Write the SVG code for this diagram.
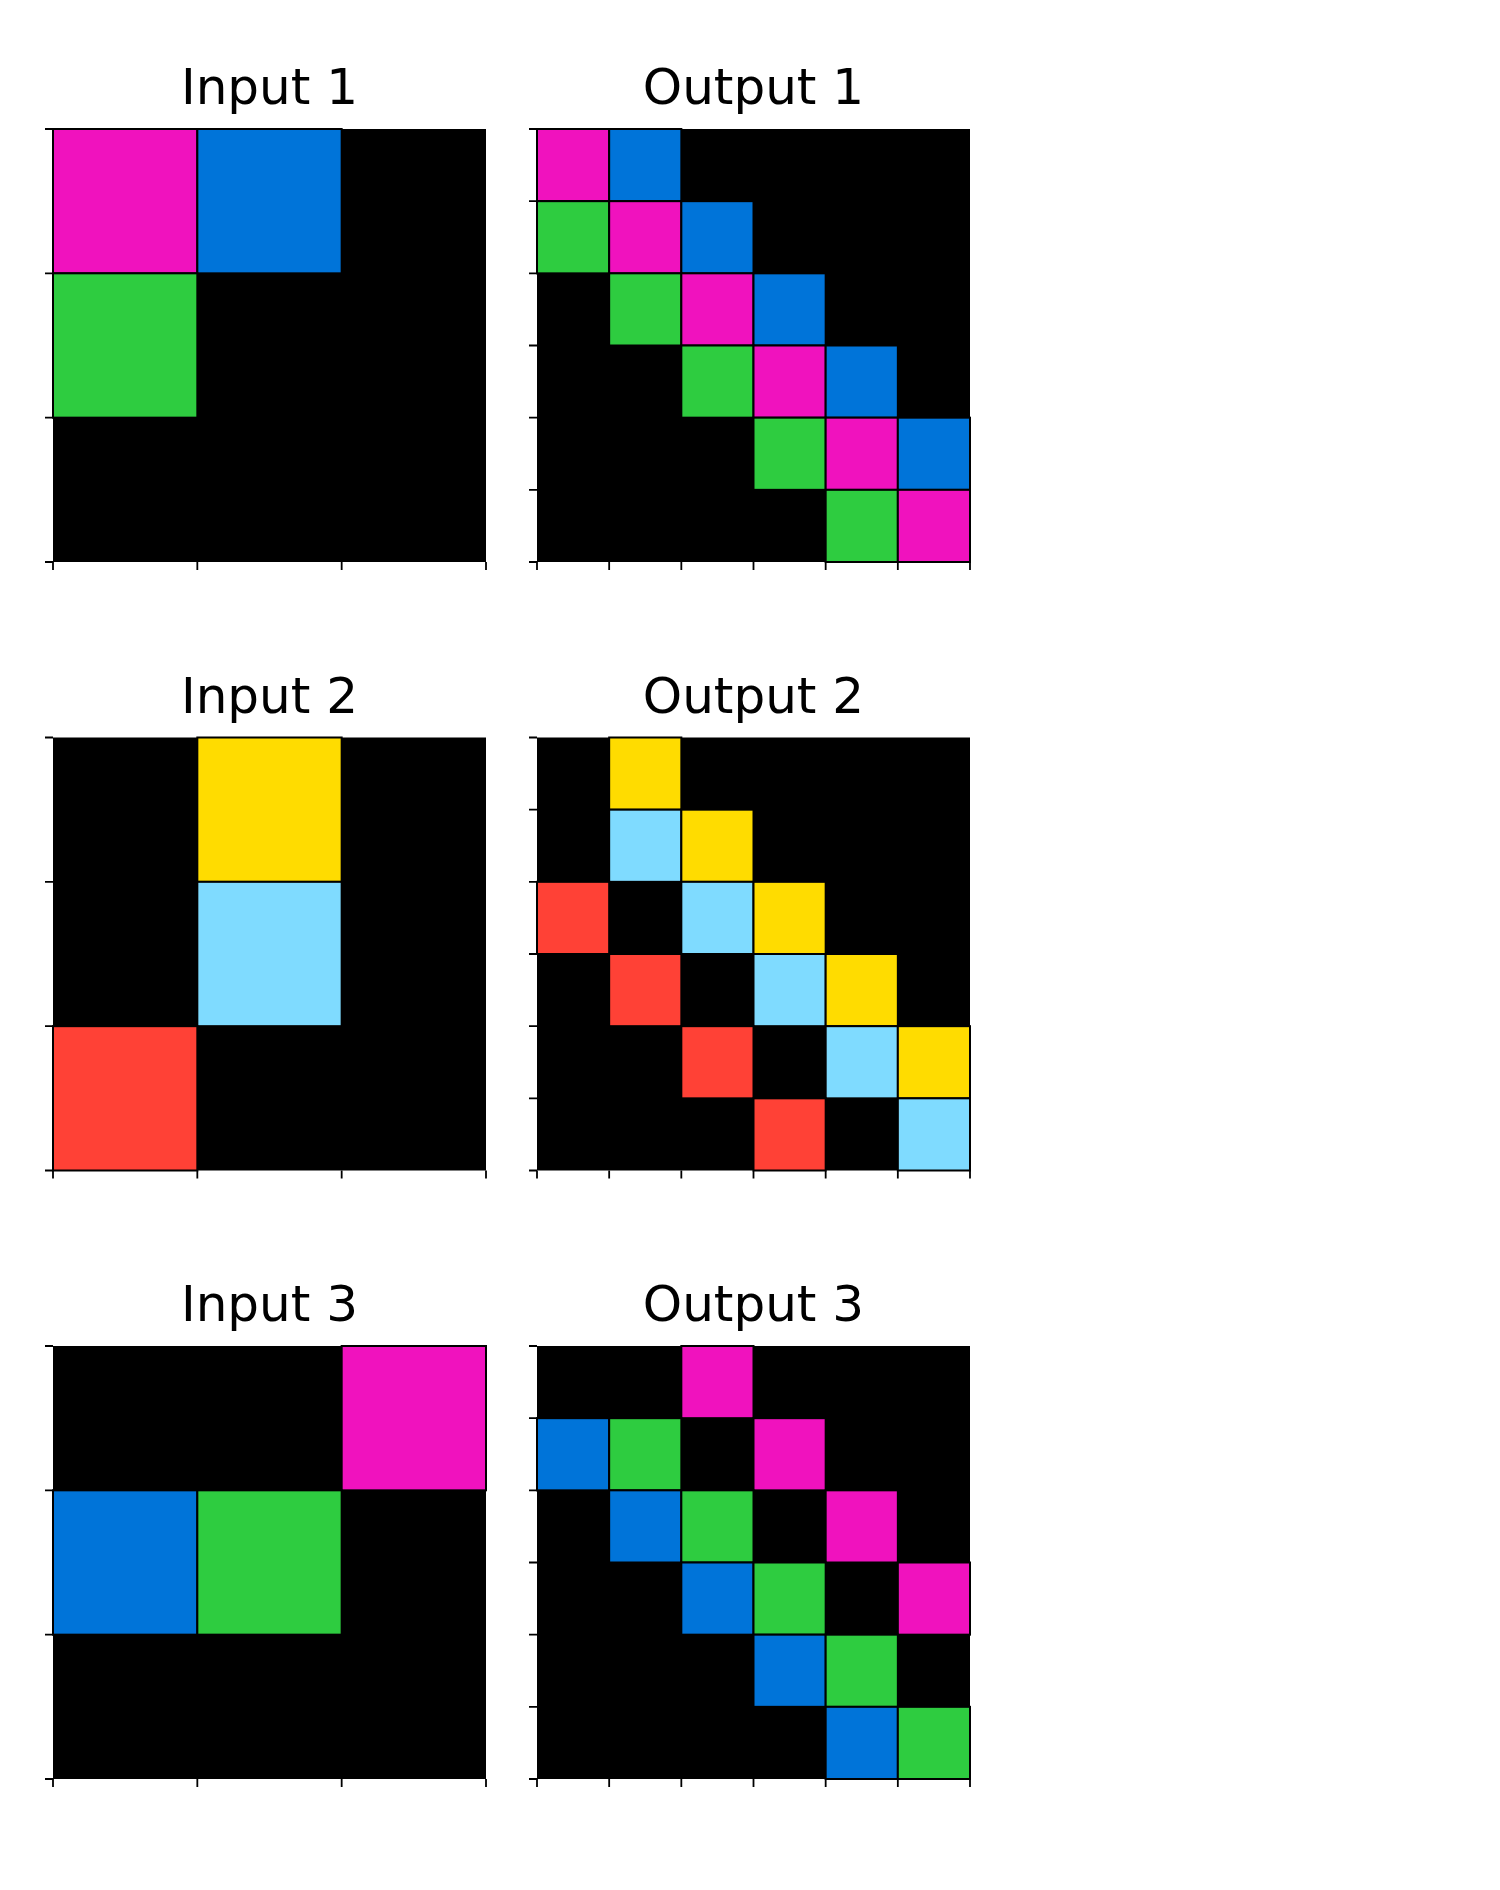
<svg xmlns="http://www.w3.org/2000/svg" width="1500" height="1890" viewBox="0 0 1500 1890">
<style>
.t{font-family:"DejaVu Sans",sans-serif;font-size:50px;fill:#000;text-anchor:middle}
.bg{fill:#000}
.c{stroke:#000;stroke-width:2}
.M{fill:#F012BE}.B{fill:#0074D9}.G{fill:#2ECC40}.Y{fill:#FFDC00}.L{fill:#7FDBFF}.R{fill:#FF4136}
.tk{stroke:#000;stroke-width:1.8}
</style>
<defs>
<g id="tin">
<path class="tk" d="M-8,0H0M-8,144.33H0M-8,288.67H0M-8,433H0M0,433V441M144.33,433V441M288.67,433V441M433,433V441"/>
</g>
<g id="tout">
<path class="tk" d="M-8,0H0M-8,72.17H0M-8,144.33H0M-8,216.5H0M-8,288.67H0M-8,360.83H0M-8,433H0M0,433V441M72.17,433V441M144.33,433V441M216.5,433V441M288.67,433V441M360.83,433V441M433,433V441"/>
</g>
</defs>
<g id="input1" transform="translate(53,129)">
<text class="t" x="216.5" y="-25">Input 1</text>
<rect class="bg" width="433" height="433"/>
<rect class="c M" x="0" y="0" width="144.33" height="144.33"/>
<rect class="c B" x="144.33" y="0" width="144.33" height="144.33"/>
<rect class="c G" x="0" y="144.33" width="144.33" height="144.33"/>
<use href="#tin"/>
</g>
<g id="output1" transform="translate(537,129)">
<text class="t" x="216.5" y="-25">Output 1</text>
<rect class="bg" width="433" height="433"/>
<rect class="c M" x="0" y="0" width="72.17" height="72.17"/>
<rect class="c B" x="72.17" y="0" width="72.17" height="72.17"/>
<rect class="c G" x="0" y="72.17" width="72.17" height="72.17"/>
<rect class="c M" x="72.17" y="72.17" width="72.17" height="72.17"/>
<rect class="c B" x="144.33" y="72.17" width="72.17" height="72.17"/>
<rect class="c G" x="72.17" y="144.33" width="72.17" height="72.17"/>
<rect class="c M" x="144.33" y="144.33" width="72.17" height="72.17"/>
<rect class="c B" x="216.5" y="144.33" width="72.17" height="72.17"/>
<rect class="c G" x="144.33" y="216.5" width="72.17" height="72.17"/>
<rect class="c M" x="216.5" y="216.5" width="72.17" height="72.17"/>
<rect class="c B" x="288.67" y="216.5" width="72.17" height="72.17"/>
<rect class="c G" x="216.5" y="288.67" width="72.17" height="72.17"/>
<rect class="c M" x="288.67" y="288.67" width="72.17" height="72.17"/>
<rect class="c B" x="360.83" y="288.67" width="72.17" height="72.17"/>
<rect class="c G" x="288.67" y="360.83" width="72.17" height="72.17"/>
<rect class="c M" x="360.83" y="360.83" width="72.17" height="72.17"/>
<use href="#tout"/>
</g>
<g id="input2" transform="translate(53,737.5)">
<text class="t" x="216.5" y="-25">Input 2</text>
<rect class="bg" width="433" height="433"/>
<rect class="c Y" x="144.33" y="0" width="144.33" height="144.33"/>
<rect class="c L" x="144.33" y="144.33" width="144.33" height="144.33"/>
<rect class="c R" x="0" y="288.67" width="144.33" height="144.33"/>
<use href="#tin"/>
</g>
<g id="output2" transform="translate(537,737.5)">
<text class="t" x="216.5" y="-25">Output 2</text>
<rect class="bg" width="433" height="433"/>
<rect class="c Y" x="72.17" y="0" width="72.17" height="72.17"/>
<rect class="c L" x="72.17" y="72.17" width="72.17" height="72.17"/>
<rect class="c Y" x="144.33" y="72.17" width="72.17" height="72.17"/>
<rect class="c R" x="0" y="144.33" width="72.17" height="72.17"/>
<rect class="c L" x="144.33" y="144.33" width="72.17" height="72.17"/>
<rect class="c Y" x="216.5" y="144.33" width="72.17" height="72.17"/>
<rect class="c R" x="72.17" y="216.5" width="72.17" height="72.17"/>
<rect class="c L" x="216.5" y="216.5" width="72.17" height="72.17"/>
<rect class="c Y" x="288.67" y="216.5" width="72.17" height="72.17"/>
<rect class="c R" x="144.33" y="288.67" width="72.17" height="72.17"/>
<rect class="c L" x="288.67" y="288.67" width="72.17" height="72.17"/>
<rect class="c Y" x="360.83" y="288.67" width="72.17" height="72.17"/>
<rect class="c R" x="216.5" y="360.83" width="72.17" height="72.17"/>
<rect class="c L" x="360.83" y="360.83" width="72.17" height="72.17"/>
<use href="#tout"/>
</g>
<g id="input3" transform="translate(53,1346)">
<text class="t" x="216.5" y="-25">Input 3</text>
<rect class="bg" width="433" height="433"/>
<rect class="c M" x="288.67" y="0" width="144.33" height="144.33"/>
<rect class="c B" x="0" y="144.33" width="144.33" height="144.33"/>
<rect class="c G" x="144.33" y="144.33" width="144.33" height="144.33"/>
<use href="#tin"/>
</g>
<g id="output3" transform="translate(537,1346)">
<text class="t" x="216.5" y="-25">Output 3</text>
<rect class="bg" width="433" height="433"/>
<rect class="c M" x="144.33" y="0" width="72.17" height="72.17"/>
<rect class="c B" x="0" y="72.17" width="72.17" height="72.17"/>
<rect class="c G" x="72.17" y="72.17" width="72.17" height="72.17"/>
<rect class="c M" x="216.5" y="72.17" width="72.17" height="72.17"/>
<rect class="c B" x="72.17" y="144.33" width="72.17" height="72.17"/>
<rect class="c G" x="144.33" y="144.33" width="72.17" height="72.17"/>
<rect class="c M" x="288.67" y="144.33" width="72.17" height="72.17"/>
<rect class="c B" x="144.33" y="216.5" width="72.17" height="72.17"/>
<rect class="c G" x="216.5" y="216.5" width="72.17" height="72.17"/>
<rect class="c M" x="360.83" y="216.5" width="72.17" height="72.17"/>
<rect class="c B" x="216.5" y="288.67" width="72.17" height="72.17"/>
<rect class="c G" x="288.67" y="288.67" width="72.17" height="72.17"/>
<rect class="c B" x="288.67" y="360.83" width="72.17" height="72.17"/>
<rect class="c G" x="360.83" y="360.83" width="72.17" height="72.17"/>
<use href="#tout"/>
</g>
<g id="connectors"></g>
</svg>
